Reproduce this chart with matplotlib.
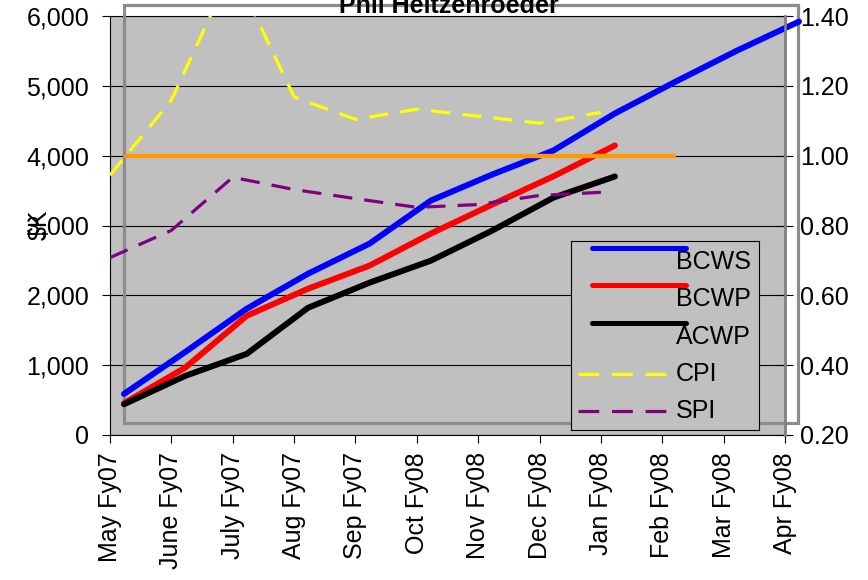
import numpy as np
import matplotlib
matplotlib.use('Agg')
import matplotlib.pyplot as plt
from matplotlib.ticker import FuncFormatter
from matplotlib.patches import Rectangle

plt.rcParams['font.family'] = ['Liberation Sans', 'DejaVu Sans']
plt.rcParams['font.size'] = 18

# data ($K on the left axis, index on the right axis)
months = ['May Fy07', 'June Fy07', 'July Fy07', 'Aug Fy07', 'Sep Fy07', 'Oct Fy08',
          'Nov Fy08', 'Dec Fy08', 'Jan Fy08', 'Feb Fy08', 'Mar Fy08', 'Apr Fy08']
bcws = [588, 1190, 1808, 2310, 2740, 3357, 3730, 4075, 4605, 5065, 5509, 5920]
bcwp = [455, 966, 1707, 2095, 2425, 2884, 3300, 3705, 4146]
acwp = [440, 847, 1162, 1822, 2181, 2496, 2927, 3400, 3702]
cpi = [0.944, 1.159, 1.538, 1.168, 1.104, 1.133, 1.113, 1.093, 1.124]
spi = [0.708, 0.786, 0.938, 0.903, 0.877, 0.852, 0.860, 0.886, 0.895]
target = [1.00] * 10

W, H = 868, 580
fig = plt.figure(figsize=(W / 100, H / 100), dpi=100)

x = np.arange(len(months))
shift = 14 / 61.4   # the $K series sit on an overlaid chart, nudged right

# main chart: left $K axis, grey plot area, category axis
ax = fig.add_axes([110 / W, 1 - 435 / H, 675 / W, 419 / H])
ax.set_facecolor('#C0C0C0')
ax.set_xlim(0, len(months) - 1)
ax.set_ylim(0, 6000)
ax.set_yticks(range(0, 6001, 1000))
ax.yaxis.set_major_formatter(FuncFormatter(lambda v, p: f'{int(v):,}'))
ax.grid(axis='y', color='black', lw=0.8)
ax.set_axisbelow(True)
ax.set_xticks(x)
ax.set_xticklabels(months, rotation=90)
ax.tick_params(axis='y', length=6, width=0.8, pad=9)
ax.tick_params(axis='x', length=6, width=0.8, pad=6.5)
for s in ['left', 'bottom', 'top']:
    ax.spines[s].set_linewidth(0.8)
ax.spines['right'].set_visible(False)

# right index axis
ax2 = ax.twinx()
ax2.set_ylim(0.2, 1.4)
ax2.set_yticks(np.arange(0.2, 1.41, 0.2))
ax2.yaxis.set_major_formatter(FuncFormatter(lambda v, p: f'{v:.2f}'))
ax2.tick_params(axis='y', direction='inout', length=11.5, width=0.8, pad=5)
for s in ['left', 'bottom', 'top']:
    ax2.spines[s].set_visible(False)
ax2.spines['right'].set_color('#7f7f7f')
ax2.spines['right'].set_linewidth(2)

# overlaid chart with the cost curves
ax3 = fig.add_axes(ax.get_position(), frameon=False)
ax3.set_xlim(ax.get_xlim())
ax3.set_ylim(ax.get_ylim())
ax3.set_xticks([])
ax3.set_yticks([])
frame = Rectangle((124 / W, 1 - 422.5 / H), 674 / W, 417.5 / H, transform=fig.transFigure,
                  fill=False, ec='#8c8c8c', lw=2.3, clip_on=False, zorder=1)
ax3.add_patch(frame)
ax3.plot(x[:len(bcws)] + shift, bcws, color='#0000FF', lw=4.3, solid_capstyle='round',
         clip_on=False, zorder=3)
ax3.plot(x[:len(bcwp)] + shift, bcwp, color='#FF0000', lw=4.3, solid_capstyle='round',
         clip_on=False, zorder=3)
ax3.plot(x[:len(acwp)] + shift, acwp, color='black', lw=4.3, solid_capstyle='round',
         clip_on=False, zorder=3)

ax2.plot(x[:len(target)] + shift, target, color='#FF9900', lw=3.1, solid_capstyle='butt')
ax2.plot(x[:len(cpi)], cpi, color='#FFFF00', lw=2.3, ls=(0, (6, 3.8)))
ax2.plot(x[:len(spi)], spi, color='#800080', lw=2.3, ls=(0, (6, 3.8)))

ax.set_zorder(0)
ax3.set_zorder(1)
ax2.set_zorder(2)

# legend box (Excel style: solid samples sit above their labels)
lg = fig.add_axes([571 / W, 1 - 430 / H, 188 / W, 189 / H])
lg.set_zorder(3)
lg.set_facecolor('#C0C0C0')
lg.set_xlim(0, 188)
lg.set_ylim(189, 0)
lg.set_xticks([])
lg.set_yticks([])
for s in lg.spines.values():
    s.set_linewidth(0.8)
leg_names = ['BCWS', 'BCWP', 'ACWP', 'CPI', 'SPI']
leg_colors = ['#0000FF', '#FF0000', 'black', '#FFFF00', '#800080']
leg_rows = [21, 58, 96, 133, 170]
for i, (name, c, yy) in enumerate(zip(leg_names, leg_colors, leg_rows)):
    if i < 3:
        lg.plot([21, 115], [yy - 14, yy - 14], color=c, lw=3.6, solid_capstyle='round')
    else:
        lg.plot([7, 100], [yy, yy], color=c, lw=2.3, ls=(0, (6.5, 4)))
    lg.text(105, yy, name, ha='left', va='center', fontsize=18)

fig.text(449 / W, 1 - 13 / H, 'Phil Heitzenroeder', ha='center', va='baseline',
         fontweight='bold', fontsize=18, zorder=5)
fig.text(40 / W, 1 - 225 / H, '$K', rotation=90, ha='center', va='center', fontsize=18)

fig.savefig('out.png', dpi=100)
